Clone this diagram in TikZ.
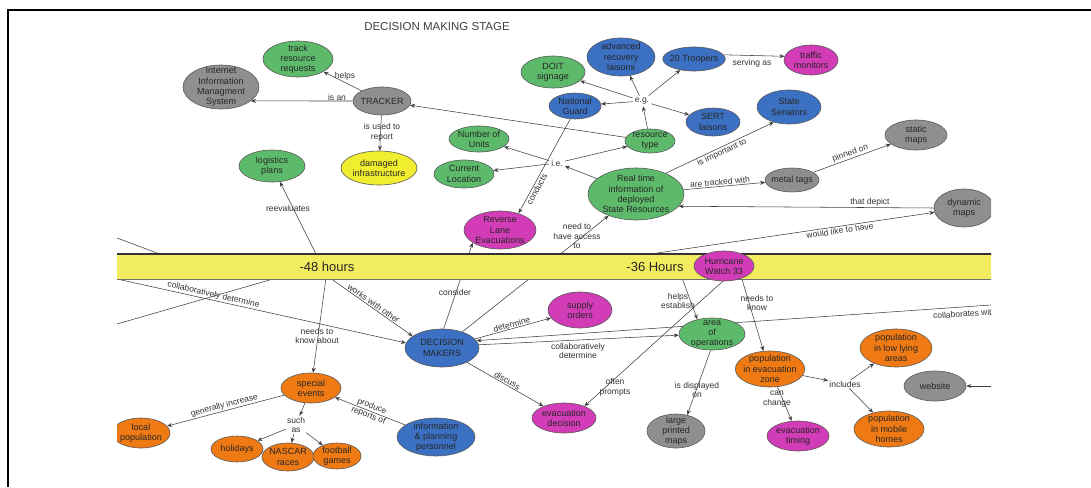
\documentclass[tikz,border=0pt]{standalone}
\usepackage{fontspec}
\setmainfont{Liberation Sans}
\usetikzlibrary{shapes.geometric,arrows.meta}
\pgfdeclarelayer{bg}
\pgfdeclarelayer{edges}
\pgfdeclarelayer{bandlayer}
\pgfsetlayers{bg,edges,bandlayer,main}

\definecolor{cgreen}{HTML}{5DBA6B}
\definecolor{cgray}{HTML}{8F8F8F}
\definecolor{cblue}{HTML}{3C70C2}
\definecolor{cmag}{HTML}{D23CB6}
\definecolor{corange}{HTML}{EF7A14}
\definecolor{cyel}{HTML}{F1EE30}
\definecolor{cband}{HTML}{F2ED5E}

\tikzset{
  cpt/.style={ellipse, draw=black!65, line width=0.6pt, align=center,
    inner xsep=-2pt, inner ysep=-4pt, font=\fontsize{9}{10.3}\selectfont, text=black!85},
  sz/.style 2 args={minimum width=#1, minimum height=#2},
  lbl/.style={font=\fontsize{8.5}{9.8}\selectfont, align=center, text=black!80, inner sep=1pt},
  link/.style={draw=black!75, line width=0.55pt},
  arr/.style={link, -{Stealth[length=5pt,width=4pt]}},
}

\begin{document}
\begin{tikzpicture}[x=1pt,y=-1pt]
\useasboundingbox (0,0) rectangle (1091,487);
\begin{pgfonlayer}{bg}
  \fill[white] (0,0) rectangle (1091,487);
\end{pgfonlayer}

% page frame
\draw[line width=2pt] (8,487) -- (8,10) -- (1091,10);

\begin{scope}
\clip (117,12) rectangle (991,478);

\node[font=\fontsize{11.5}{13}\selectfont, text=black!75] (title) at (437,27) {DECISION MAKING STAGE};

% concepts above the time line
\node[cpt, fill=cgreen, sz={70}{36}] (track) at (298,59) {track\\resource\\requests};
\node[cpt, fill=cgray, sz={76}{44}] (iims) at (221,87) {Internet\\Information\\Managment\\System};
\node[cpt, fill=cgray, sz={58}{28}] (tracker) at (382,101) {TRACKER};
\node[cpt, fill=cyel, sz={76}{34}] (dmg) at (379,168) {damaged\\infrastructure};
\node[cpt, fill=cgreen, sz={66}{32}] (logi) at (272,166) {logistics\\plans};
\node[cpt, fill=cgreen, sz={64}{32}] (doit) at (553,72) {DOIT\\signage};
\node[cpt, fill=cblue, sz={68}{38}] (adv) at (621,57) {advanced\\recovery\\laisons};
\node[cpt, fill=cblue, sz={58}{24}] (troop) at (694,59) {20 Troopers};
\node[cpt, fill=cmag, sz={54}{30}] (traffic) at (811,60) {traffic\\monitors};
\node[cpt, fill=cblue, sz={52}{26}] (ng) at (575,106) {National\\Guard};
\node[lbl, inner sep=2pt] (eg) at (642,101) {e.g.};
\node[cpt, fill=cblue, sz={54}{28}] (sert) at (713,122) {SERT\\laisons};
\node[cpt, fill=cblue, sz={64}{34}] (sen) at (789,107) {State\\Senators};
\node[cpt, fill=cgray, sz={62}{30}] (static) at (916,135) {static\\maps};
\node[cpt, fill=cgreen, sz={50}{24}] (rtype) at (650,141) {resource\\type};
\node[cpt, fill=cgreen, sz={60}{26}] (units) at (479,139) {Number of\\Units};
\node[cpt, fill=cgreen, sz={60}{28}] (cur) at (464,174) {Current\\Location};
\node[lbl, inner sep=2pt] (ie) at (557,163) {i.e.};
\node[cpt, fill=cgreen, sz={96}{52}] (real) at (636,194) {Real time\\information of\\deployed\\State Resources};
\node[cpt, fill=cgray, sz={54}{24}] (tags) at (792,180) {metal tags};
\node[cpt, fill=cgray, sz={60}{38}] (dyn) at (964,208) {dynamic\\maps};
\node[cpt, fill=cmag, sz={72}{38}] (rev) at (500,230) {Reverse\\Lane\\Evacuations};

% time line labels
\node[font=\fontsize{13}{15}\selectfont, text=black!85] (h48) at (327,267) {-48 hours};
\node[font=\fontsize{13}{15}\selectfont, text=black!85] (h36) at (655,267) {-36 Hours};
\node[cpt, fill=cmag, sz={60}{30}] (hw) at (724,266) {Hurricane\\Watch 33};

% concepts below the time line
\node[cpt, fill=cmag, sz={64}{36}] (supply) at (580,310) {supply\\orders};
\node[cpt, fill=cgreen, sz={66}{32}] (aoo) at (712,334) {area\\of\\operations};
\node[cpt, fill=cblue, sz={74}{38}] (dm) at (442,348) {DECISION\\MAKERS};
\node[cpt, fill=corange, sz={68}{36}] (pez) at (770,369) {population\\in evacuation\\zone};
\node[cpt, fill=corange, sz={72}{38}] (plow) at (896,348) {population\\in low lying\\areas};
\node[cpt, fill=cgray, sz={62}{30}] (web) at (935,386) {website};
\node[cpt, fill=corange, sz={70}{36}] (pmob) at (889,429) {population\\in mobile\\homes};
\node[cpt, fill=cmag, sz={62}{30}] (etime) at (798,436) {evacuation\\timing};
\node[cpt, fill=cgray, sz={58}{34}] (lpm) at (676,431) {large\\printed\\maps};
\node[cpt, fill=cmag, sz={64}{30}] (edec) at (564,418) {evacuation\\decision};
\node[cpt, fill=cblue, sz={78}{38}] (ipp) at (436,437) {information\\\& planning\\personnel};
\node[cpt, fill=corange, sz={60}{30}] (spec) at (311,388) {special\\events};
\node[cpt, fill=corange, sz={58}{30}] (lpop) at (141,433) {local\\population};
\node[cpt, fill=corange, sz={52}{26}] (hol) at (237,449) {holidays};
\node[cpt, fill=corange, sz={52}{28}] (nas) at (288,457) {NASCAR\\races};
\node[cpt, fill=corange, sz={48}{26}] (foot) at (337,456) {football\\games};
\node[lbl] (such) at (296,425) {such\\as};
\node[lbl] (incl) at (845,384) {includes};

% loose ends of links that run under the time line or off the sheet
\coordinate (h48a) at (317,256);
\coordinate (h48b) at (326,278);
\coordinate (h48c) at (330,278);
\coordinate (h36a) at (637,256);
\coordinate (h36b) at (682,278);
\coordinate (leftA) at (117,238);
\coordinate (leftAe) at (165,256);
\coordinate (leftB) at (117,279);
\coordinate (leftC) at (117,324);
\coordinate (leftCe) at (280,277);
\coordinate (rightA) at (991,305);
\coordinate (rightB) at (991,386);

% free-standing link phrases
\node[lbl] (tHelps) at (345,76) {helps};
\node[lbl] (tIsAn) at (337,97) {is an};
\node[lbl] (tUsed) at (382,132) {is used to\\report};
\node[lbl] (tServ) at (752,63) {serving as};
\node[lbl] (tAccess) at (577,236) {need to\\have access\\to};
\node[lbl] (tConsider) at (455,292) {consider};
\node[lbl] (tCollab) at (578,351) {collaboratively\\determine};
\node[lbl] (tPrompts) at (615,387) {often\\prompts};
\node[lbl] (tEstab) at (678,301) {helps\\establish};
\node[lbl] (tKnow) at (757,303) {needs to\\know};
\node[lbl] (tDisp) at (697,390) {is displayed\\on};
\node[lbl] (tChange) at (777,399) {can\\change};
\node[lbl] (tReeval) at (288,208) {reevaluates};
\node[lbl] (tKnowAbout) at (317,336) {needs to\\know about};
\node[lbl, anchor=west, rotate=3.9] (tCollabW) at (932,316) {collaborates with};
\end{scope}

% time line band
\begin{pgfonlayer}{bandlayer}
\begin{scope}
\clip (117,12) rectangle (991,478);
\fill[cband] (110,254) rectangle (1000,279);
\draw[black!80, line width=1.2pt] (110,254) -- (1000,254);
\draw[black!55, line width=1pt] (110,279) -- (1000,279);
\end{scope}
\end{pgfonlayer}

% links
\begin{pgfonlayer}{edges}
\begin{scope}
\clip (117,12) rectangle (991,478);
\draw[arr] (tracker) -- (track);
\draw[arr] (tracker.west) -- (iims.-25);
\draw[arr] (tracker) -- (dmg);
\draw[arr] (rtype) -- (tracker);
\draw[arr] (rtype) -- (eg);
\draw[arr] (eg) -- (doit);
\draw[arr] (eg) -- (adv);
\draw[arr] (eg) -- (troop);
\draw[arr] (eg) -- (sert);
\draw[arr] (eg) -- (ng);
\draw[arr] (troop.8) -- (traffic.172);
\draw[arr] (real) -- (ie);
\draw[arr] (ie) -- (units);
\draw[arr] (ie) -- (cur);
\draw[arr] (ie) -- (rtype);
\draw[arr] (ng.250) -- (rev.42) node[lbl, sloped, pos=0.72, below] {conducts};
\draw[arr] (real.35) -- (sen.225) node[lbl, sloped, midway, below] {is important to};
\draw[arr] (real) -- (tags) node[lbl, sloped, pos=0.45, above] {are tracked with};
\draw[arr] (tags) -- (static) node[lbl, sloped, midway, above] {pinned on};
\draw[arr] (dyn.west) -- (real.-16) node[lbl, pos=0.25, above] {that depict};
\draw[arr] (h36a) -- (dyn) node[lbl, sloped, pos=0.68, below] {would like to have};
\draw[arr] (dm) -- (real);
\draw[arr] (dm.85) -- (rev.205);
\draw[arr] (dm) -- (supply) node[lbl, sloped, midway, above] {determine};
\draw[arr] (dm.5) -- (aoo.182);
\draw[arr] (rightA) -- (dm.12);
\draw[arr] (dm) -- (edec) node[lbl, sloped, midway, above] {discuss};
\draw[arr] (hw.265) -- (edec.30);
\draw[arr] (h36b) -- (aoo.135);
\draw[arr] (hw.325) -- (pez.110);
\draw[arr] (aoo.265) -- (lpm.55);
\draw[arr] (pez) -- (incl);
\draw[arr] (incl) -- (plow);
\draw[arr] (incl) -- (pmob);
\draw[arr] (pez) -- (etime);
\draw[arr] (rightB) -- (web);
\draw[arr] (ipp) -- (spec) node[lbl, sloped, midway] {produce\\reports of};
\draw[arr] (spec) -- (lpop) node[lbl, sloped, midway, above] {generally increase};
\draw[arr] (spec) -- (such);
\draw[arr] (such) -- (hol);
\draw[arr] (such) -- (nas);
\draw[arr] (such) -- (foot);
\draw[arr] (h48a) -- (logi);
\draw[arr] (h48b) -- (spec);
\draw[arr] (h48c) -- (dm.158) node[lbl, sloped, midway, above] {works with other};
\draw[arr] (leftB) -- (dm.172) node[lbl, sloped, pos=0.33, above] {collaboratively determine};
\draw[link] (leftA) -- (leftAe);
\draw[link] (leftC) -- (leftCe);
\end{scope}
\end{pgfonlayer}
\end{tikzpicture}
\end{document}
